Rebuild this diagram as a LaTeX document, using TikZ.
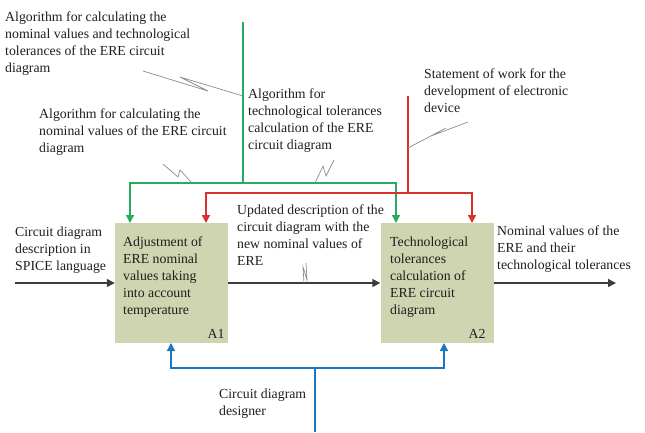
\documentclass[tikz,border=0pt]{standalone}
\usepackage{fontspec}
\setmainfont{Liberation Serif}
\usetikzlibrary{arrows.meta}
\definecolor{boxfill}{RGB}{206,213,176}
\definecolor{ggreen}{RGB}{40,170,95}
\definecolor{rred}{RGB}{218,48,45}
\definecolor{bblue}{RGB}{30,118,190}
\definecolor{aline}{RGB}{60,60,60}
\definecolor{sq}{RGB}{140,140,140}
\definecolor{txt}{RGB}{30,30,30}
\begin{document}
\begin{tikzpicture}[x=1pt,y=-1pt,
  lbl/.style={anchor=north west,inner sep=0pt,align=left,text=txt,font=\fontsize{13.8}{17}\selectfont},
  fbox/.style={fill=boxfill,draw=none,minimum width=113pt,minimum height=120pt,inner sep=0pt},
  tag/.style={inner sep=0pt,text=txt,font=\fontsize{13.8}{17}\selectfont},
  tip/.style={-{Triangle[length=8pt,width=8pt]}},
  gline/.style={ggreen,line width=1.4pt},
  rline/.style={rred,line width=1.4pt},
  bline/.style={bblue,line width=1.4pt},
  kline/.style={aline,line width=1.4pt},
  squig/.style={sq,line width=0.7pt}]
\useasboundingbox (0,0) rectangle (645,432);
% boxes
\node[fbox] (A1) at (171.5,283) {};
\node[fbox] (A2) at (437,283) {};
\node[lbl] (A1t) at (123,237) {Adjustment of\\ERE nominal\\values taking\\into account\\temperature};
\node[lbl] (A2t) at (390,237) {Technological\\tolerances\\calculation of\\ERE circuit\\diagram};
\node[tag] (A1l) at (216,334) {A1};
\node[tag] (A2l) at (477,334) {A2};
% coordinates
\coordinate (gtop) at (243,22);
\coordinate (gj) at (243,183);
\coordinate (gl) at (130,183);
\coordinate (gr) at (396,183);
\coordinate (g1) at (130,223);
\coordinate (g2) at (396,223);
\coordinate (rtop) at (408,96);
\coordinate (rj) at (408,193);
\coordinate (rl) at (206,193);
\coordinate (rr) at (472,193);
\coordinate (r1) at (206,223);
\coordinate (r2) at (472,223);
\coordinate (bbot) at (315,432);
\coordinate (bj) at (315,368);
\coordinate (bl) at (171,368);
\coordinate (br) at (444,368);
\coordinate (b1) at (171,343);
\coordinate (b2) at (444,343);
\coordinate (inL) at (15,283);
\coordinate (outR) at (616,283);
% green
\draw[gline] (gtop) -- (gj);
\draw[gline,tip] (gj) -- (gl) -- (g1);
\draw[gline,tip] (gj) -- (gr) -- (g2);
% red
\draw[rline] (rtop) -- (rj);
\draw[rline,tip] (rj) -- (rl) -- (r1);
\draw[rline,tip] (rj) -- (rr) -- (r2);
% blue
\draw[bline] (bbot) -- (bj);
\draw[bline,tip] (bj) -- (bl) -- (b1);
\draw[bline,tip] (bj) -- (br) -- (b2);
% flow arrows
\draw[kline,tip] (inL) -- (A1.west);
\draw[kline,tip] (A1.east) -- (A2.west);
\draw[kline,tip] (A2.east) -- (outR);
% labels
\node[lbl] (T1) at (5,12) {Algorithm for calculating the\\nominal values and technological\\tolerances of the ERE circuit\\diagram};
\node[lbl] (T2) at (39,109) {Algorithm for calculating the\\nominal values of the ERE circuit\\diagram};
\node[lbl] (T3) at (248,89) {Algorithm for\\technological tolerances\\calculation of the ERE\\circuit diagram};
\node[lbl] (T4) at (424,69) {Statement of work for the\\development of electronic\\device};
\node[lbl] (T5) at (237,205) {Updated description of the\\circuit diagram with the\\new nominal values of\\ERE};
\node[lbl] (T6) at (15,227) {Circuit diagram\\description in\\SPICE language};
\node[lbl] (T7) at (497,226) {Nominal values of the\\ERE and their\\technological tolerances};
\node[lbl] (T8) at (219,389) {Circuit diagram\\designer};
% squiggles
\coordinate (s1a) at (143,71);
\coordinate (s1b) at (243,96);
\draw[squig] (s1a) -- (208,91) -- (180,77) -- (s1b);
\coordinate (s2a) at (163,164);
\coordinate (s2b) at (192,183);
\draw[squig] (s2a) -- (178,177) -- (180,170) -- (s2b);
\coordinate (s3a) at (315,183);
\coordinate (s3b) at (334,160);
\draw[squig] (s3a) -- (323,166) -- (326,176) -- (s3b);
\coordinate (s4a) at (408,148);
\coordinate (s4b) at (468,122);
\draw[squig] (s4a) -- (446,128) -- (431,136) -- (s4b);
\coordinate (s5a) at (304,283);
\coordinate (s5b) at (306,263);
\draw[squig] (s5a) -- (303,267) -- (307,280) -- (s5b);
\end{tikzpicture}
\end{document}
